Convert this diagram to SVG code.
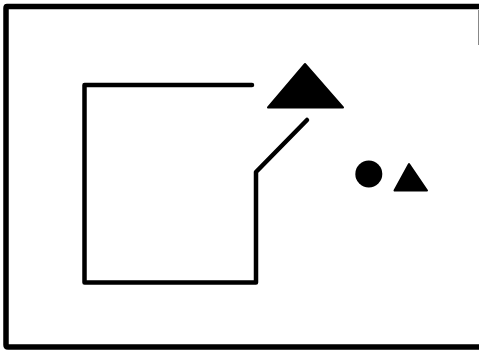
<svg xmlns="http://www.w3.org/2000/svg" width="479" height="354" viewBox="0 0 479 354">
<style>
.ln{fill:none;stroke:#000;stroke-width:4.5;stroke-linejoin:round;stroke-linecap:round}
.sh{fill:#000;stroke:#000;stroke-width:2;stroke-linejoin:round}
</style>
<rect width="479" height="354" fill="#fff"/>
<g id="frame">
<path d="M482 6.5 H7 Q6 6.5 6 8 V345 Q6 347 8 347 H482" fill="none" stroke="#000" stroke-width="5.5"/>
<line x1="478.5" y1="10" x2="478.5" y2="45" stroke="#888" stroke-width="1"/>
</g>
<g id="connectors">
<path class="ln" d="M252 85 H84.5 V282.5 H256 V172 L307 120"/>
</g>
<g id="big-triangle">
<polygon class="sh" points="305,64 268,107.5 343,107.5"/>
</g>
<g id="circle">
<circle cx="368.8" cy="174" r="13.5" fill="#000"/>
</g>
<g id="small-triangle">
<polygon class="sh" points="409,164 394.5,190.5 427,190.5"/>
</g>
</svg>
